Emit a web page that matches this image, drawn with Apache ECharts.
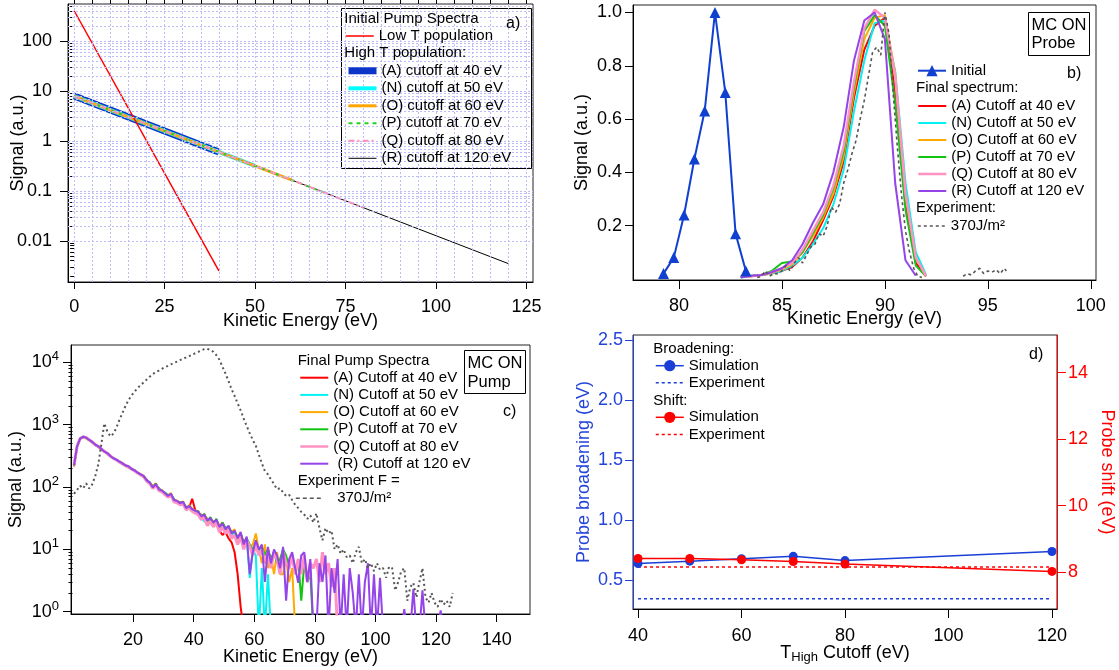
<!DOCTYPE html>
<html><head><meta charset="utf-8">
<script src="https://cdn.jsdelivr.net/npm/echarts@6/dist/echarts.min.js"></script>
<style>html,body{margin:0;padding:0;background:#fff}#c{width:1119px;height:670px}</style>
</head><body><div id="c"></div>
<script>
// ================= DATA =================
// ---- Panel a: initial pump spectra ----
const A_XTICKS = [0, 25, 50, 75, 100, 125];
const A_XMINOR = [0,5,10,15,20,25,30,35,40,45,50,55,60,65,70,75,80,85,90,95,100,105,110,115,120,125];
const A_YTICKS = [0.01, 0.1, 1, 10, 100];
const A_YLABELS = ['0.01', '0.1', '1', '10', '100'];
const A_YMINOR = [0.002,0.003,0.004,0.005,0.006,0.007,0.008,0.009,
  0.02,0.03,0.04,0.05,0.06,0.07,0.08,0.09,
  0.2,0.3,0.4,0.5,0.6,0.7,0.8,0.9,
  2,3,4,5,6,7,8,9, 20,30,40,50,60,70,80,90, 200,300,400,500];
const A_GRID_Y = [0.002,0.003,0.004,0.005,0.006,0.007,0.008,0.009,
  0.01,0.02,0.03,0.04,0.05,0.06,0.07,0.08,0.09,
  0.1,0.2,0.3,0.4,0.5,0.6,0.7,0.8,0.9,
  1,2,3,4,5,6,7,8,9, 10,20,30,40,50,60,70,80,90, 100,200,300,400,500];
const A_LOW_T   = [[0, 410], [40, 0.0025]];
const A_CUT_40  = [[0, 8], [40, 0.608]];
const A_CUT_50  = [[0, 8], [50, 0.319]];
const A_CUT_60  = [[0, 8], [60, 0.1675]];
const A_CUT_70  = [[0, 8], [70, 0.088]];
const A_CUT_80  = [[0, 8], [80, 0.0462]];
const A_CUT_120 = [[0, 8], [120, 0.0035]];

// ---- Panel b: probe spectra ----
const B_XTICKS = [80, 85, 90, 95, 100];
const B_YTICKS = [0.2, 0.4, 0.6, 0.8, 1.0];
const B_INIT_X = [79.25, 79.75, 80.25, 80.75, 81.25, 81.75, 82.25, 82.75, 83.25];
const B_INIT_Y = [0.02, 0.08, 0.24, 0.45, 0.63, 1.0, 0.70, 0.17, 0.03];
const B_X = [83.0,83.5,84.0,84.5,85.0,85.5,86.0,86.5,87.0,87.5,88.0,88.5,89.0,89.5,90.0,90.5,91.0,91.5,92.0];
const B_A = [0.008,0.01,0.015,0.02,0.03,0.045,0.08,0.14,0.22,0.31,0.44,0.68,0.86,0.95,0.98,0.70,0.28,0.06,0.01];
const B_N = [0.005,0.01,0.015,0.02,0.03,0.05,0.08,0.13,0.19,0.28,0.41,0.63,0.82,0.96,0.97,0.78,0.36,0.10,0.015];
const B_O = [0.008,0.01,0.015,0.022,0.035,0.055,0.10,0.16,0.23,0.32,0.46,0.70,0.90,0.98,0.99,0.77,0.32,0.08,0.012];
const B_P = [0.008,0.012,0.015,0.03,0.06,0.065,0.10,0.17,0.24,0.34,0.48,0.72,0.93,0.99,0.95,0.66,0.26,0.05,0.01];
const B_Q = [0.008,0.01,0.015,0.025,0.04,0.06,0.11,0.18,0.25,0.35,0.50,0.74,0.94,1.01,0.98,0.76,0.32,0.08,0.01];
const B_R = [0.005,0.012,0.015,0.025,0.04,0.07,0.13,0.21,0.28,0.40,0.57,0.82,0.97,1.0,0.90,0.36,0.07,0.012,null];
const B_EXP_X = [83.8,84.0,84.2,84.4,84.6,84.8,85.0,85.2,85.4,85.6,85.8,86.0,86.2,86.4,86.6,86.8,87.0,87.2,87.4,87.6,
  87.8,88.0,88.2,88.4,88.6,88.8,89.0,89.2,89.4,89.6,89.8,90.0,90.2,90.4,90.6,90.8,91.0,91.2,91.4,91.6,91.8,
  92.8, 93.8,94.0,94.2,94.4,94.6,94.8,95.0,95.2,95.4,95.6,95.8,95.9];
const B_EXP_Y = [0.005,0.01,0.03,0.01,0.02,0.02,0.03,0.05,0.03,0.06,0.08,0.06,0.09,0.12,0.13,0.17,0.16,0.20,0.27,0.25,
  0.28,0.36,0.41,0.47,0.52,0.60,0.67,0.76,0.85,0.87,0.84,1.0,0.92,0.70,0.50,0.32,0.18,0.10,0.04,0.01,0.005,
  null, 0.01,0.02,0.015,0.03,0.04,0.02,0.03,0.025,0.035,0.02,0.04,0.03];

// ---- Panel c: final pump spectra ----
const C_XTICKS = [20, 40, 60, 80, 100, 120, 140];
const C_YTICKS = [1, 10, 100, 1000, 10000];
const C_YEXP = ['0', '1', '2', '3', '4'];
const C_YMINOR = [2,3,4,5,6,7,8,9,20,30,40,50,60,70,80,90,200,300,400,500,600,700,800,900,
  2000,3000,4000,5000,6000,7000,8000,9000];
const E_C = [0.5,1.5,2.5,3.5,4.5,5.5,6.5,7.5,8.5,9.5,10.5,11.5,12.5,13.5,14.5,15.5,16.5,17.5,18.5,19.5,
  20.5,21.5,22.5,23.5,24.5,25.5,26.5,27.5,28.5,29.5,30.5,31.5,32.5,33.5,34.5,35.5,36.5,37.5,38.5,39.5,
  40.5,41.5,42.5,43.5,44.5,45.5,46.5,47.5,48.5,49.5,50.5,51.5,52.5,53.5,54.5,55.5,56.5,57.5,58.5,59.5,
  60.5,61.5,62.5,63.5,64.5,65.5,66.5,67.5,68.5,69.5,70.5,71.5,72.5,73.5,74.5,75.5,76.5,77.5,78.5,79.5,
  80.5,81.5,82.5,83.5,84.5,85.5,86.5,87.5,88.5,89.5,90.5,91.5,92.5,93.5,94.5,95.5,96.5,97.5,98.5,99.5,
  100.5,101.5,102.5,103.5,104.5,105.5,106.5,107.5,108.5,109.5,110.5,111.5,112.5,113.5,114.5,115.5,116.5,117.5,118.5,119.5,
  120.5,121.5,122.5,123.5,124.5,125.5];
// values below the axis floor (0.5) stand for empty (zero-count) bins
const C_A = [215,440,590,635,610,575,520,470,440,400, 380,340,310,292,270,250,232,225,205,198,
  180,168,155,145,132,116,104,108,96,85, 78,75,74,64,58,57,55,48,47,65,
  43,37,36,34,31,30,27,26,20,17, 19,15,13,9,4,1.2,0.5];
const C_N = [220,455,610,650,615,565,525,475,445,405, 372,345,318,288,272,258,238,220,212,192,
  183,172,158,148,130,120,100,110,94,86, 82,74,76,64,58,56,56,47,49,43,
  41,39,35,28,30,31,26,28,22,25, 20,22,17,19,14,17,13,15,3.5,10, 8,0.5,5,0.5,4,0.5];
const C_O = [220,445,595,630,600,560,522,478,448,408, 368,348,320,292,276,254,242,220,214,196,
  186,168,162,152,126,120,102,115,90,90, 79,73,80,60,61,54,59,45,51,45,
  42,41,33,37,30,31,28,29,24,27, 20,23,19,21,14,18,13,15,11,12,
  18,10,6,12,5,8,4,9,4,4, 7,3,5,0.5,0.5];
const C_P = [222,448,598,635,618,568,528,482,448,412, 368,352,312,290,272,256,238,224,212,196,
  186,171,158,150,129,116,99,113,93,86, 81,73,77,63,59,56,57,47,49,44,
  41,41,33,37,28,33,26,31,22,27, 22,23,19,19,16,18,13,15,12,10,
  13,9,11,8,10,7,9,6,7,10, 8,5,8,4,7,1.5,6,3,4,0.5];
const C_Q = [224,452,602,642,622,572,532,478,452,408, 372,348,313,288,273,253,238,220,213,193,
  183,168,157,146,124,114,95,108,88,84, 76,69,74,58,56,52,54,43,46,41,
  38,36,30,33,24,28,23,27,19,23, 18,21,15,17,12,16,10,14,11,8,
  12,8,10,6,9,5,9,7,4,9, 6,5,8,4,7,4,8,3,6,5, 7,3,9,4,6,2.5,5,0.5];
const C_R = [225,450,600,640,620,570,530,480,450,410, 370,350,315,290,275,255,240,222,215,195,
  185,170,160,150,128,118,98,112,92,88, 80,72,78,62,60,55,58,46,50,44,
  42,40,34,36,29,32,27,30,23,26, 21,24,18,20,15,19,12,16,4,9,
  14,10,12,3,11,6,10,8,5,11, 1.5,7,9,5,2.9,8,9,3,7,0.5,
  0.5,6,3,8,0.5,5,2,7,0.5,4, 0.5,5,2,0.5,4,0.5,3,6,0.5,4,
  0.5,3.5,0.5,0.5,0.5,0.5,0.5,0.5,0.5,1.1, 0.5,0.5,2.3,0.5,0.5,2.2,0.5,0.5,0.5,0.5, 0.5,1.05,0.5];
const C_EXP = [78,90,105,95,115,95,110,150,230,480, 1050,780,650,720,900,1200,1550,2000,2500,2950,
  3400,3900,4300,4800,5300,5900,6500,7000,7400,7900, 8400,8800,9300,9800,10300,10900,11500,12000,12600,13300,
  14000,14700,15500,16300,16500,15800,14800,13000,11000,8500, 6600,5000,3700,2900,2200,1700,1250,950,730,570,
  460,330,240,180,160,132,112,92,96,82, 72,75,62,52,46,40,36,31,35,27,
  38,22,14,22,18,20,10,12,8.5,10, 7.5,8,6,9,11,6,7,5,6,4.5,
  6,4.7,5,3.5,5.3,5,2.2,3,4.5,5, 1.5,2.5,2.9,1.7,3,5,1.7,1.4,2,1.4, 1.2,1.6,1.3,1.5,1.2,2];

// ---- Panel d: broadening and shift ----
const D_XTICKS = [40, 60, 80, 100, 120];
const D_YL_TICKS = [0.5, 1.0, 1.5, 2.0, 2.5];
const D_YR_TICKS = [8, 10, 12, 14];
const D_X = [40, 50, 60, 70, 80, 120];
const D_BROAD = [0.64, 0.66, 0.68, 0.70, 0.665, 0.74];
const D_SHIFT = [8.41, 8.41, 8.37, 8.32, 8.24, 8.02];
const D_EXP_X = [40, 120];
const D_BROAD_EXP = [0.348, 0.348];
const D_SHIFT_EXP = [8.15, 8.15];

// ================= CHART =================
const FONT = '"Liberation Sans", Arial, sans-serif';
const pairs = (xs, ys) => ys.map((y, i) => [xs[i], (y === null ? '-' : y)]);
const nearestLabel = (ticks, labels) => v => {
  let best = 0, bd = Infinity;
  ticks.forEach((t, i) => { const d = Math.abs(Math.log(v) - Math.log(t)); if (d < bd) { bd = d; best = i; } });
  return labels[best];
};
const lbl = (extra) => Object.assign({ fontSize: 18, color: '#000', fontFamily: FONT }, extra);
const nm = (extra) => Object.assign({ fontSize: 18, color: '#000', fontFamily: FONT }, extra);
const axLine = (c) => ({ show: true, onZero: false, lineStyle: { color: c || '#000', width: 1 } });

const xAxis = [
  { type: 'value', gridIndex: 0, min: -1.7, max: 126.8, axisLine: axLine(),
    axisTick: { show: true, length: 7, customValues: A_XTICKS, lineStyle: { color: '#000' } },
    axisLabel: lbl({ customValues: A_XTICKS, margin: 16 }), splitLine: { show: false },
    name: 'Kinetic Energy (eV)', nameLocation: 'middle', nameGap: 30, nameTextStyle: nm(), nameMoveOverlap: false },
  { type: 'value', gridIndex: 0, min: -1.7, max: 126.8, axisLine: { show: false },
    axisTick: { show: true, length: 4, customValues: A_XMINOR, lineStyle: { color: '#000' } },
    axisLabel: { show: false }, splitLine: { show: false } },
  { type: 'value', gridIndex: 1, min: 77.77, max: 100.25, axisLine: axLine(),
    axisTick: { show: true, length: 9, customValues: B_XTICKS, lineStyle: { color: '#000' } },
    axisLabel: lbl({ customValues: B_XTICKS, margin: 17 }), splitLine: { show: false },
    name: 'Kinetic Energy (eV)', nameLocation: 'middle', nameGap: 30, nameTextStyle: nm(), nameMoveOverlap: false },
  { type: 'value', gridIndex: 2, min: -0.5, max: 151, axisLine: axLine(),
    axisTick: { show: true, length: 8, customValues: C_XTICKS, lineStyle: { color: '#000' } },
    axisLabel: lbl({ customValues: C_XTICKS, margin: 17 }), splitLine: { show: false },
    name: 'Kinetic Energy (eV)', nameLocation: 'middle', nameGap: 34, nameTextStyle: nm(), nameMoveOverlap: false },
  { type: 'value', gridIndex: 3, min: 39.03, max: 120.97, axisLine: axLine(),
    axisTick: { show: true, length: 9, customValues: D_XTICKS, lineStyle: { color: '#000' } },
    axisLabel: lbl({ customValues: D_XTICKS, margin: 18 }), splitLine: { show: false },
    name: 'T{sub|High} Cutoff (eV)', nameLocation: 'middle', nameGap: 33, nameMoveOverlap: false,
    nameTextStyle: nm({ rich: { sub: { fontSize: 13, fontFamily: FONT, color: '#000', padding: [9, 0, 0, 0] } } }) }
];

const BLUE_AX = '#2444d8';
const yAxis = [
  { type: 'log', logBase: 10, gridIndex: 0, min: 0.0015, max: 560, axisLine: axLine(),
    axisTick: { show: true, length: 8, customValues: A_YTICKS, lineStyle: { color: '#000' } },
    axisLabel: lbl({ customValues: A_YTICKS, margin: 16, formatter: nearestLabel(A_YTICKS, A_YLABELS) }),
    splitLine: { show: false }, minorTick: { show: false },
    name: 'Signal (a.u.)', nameLocation: 'middle', nameGap: 41, nameTextStyle: nm(), nameMoveOverlap: false },
  { type: 'log', logBase: 10, gridIndex: 0, min: 0.0015, max: 560, position: 'left', axisLine: { show: false },
    axisTick: { show: true, length: 4, customValues: A_YMINOR, lineStyle: { color: '#000' } },
    axisLabel: { show: false }, splitLine: { show: false } },
  { type: 'value', gridIndex: 1, min: -0.004, max: 1.028, axisLine: axLine(),
    axisTick: { show: true, length: 8, customValues: B_YTICKS, lineStyle: { color: '#000' } },
    axisLabel: lbl({ customValues: B_YTICKS, margin: 11, formatter: v => v.toFixed(1) }), splitLine: { show: false },
    name: 'Signal (a.u.)', nameLocation: 'middle', nameGap: 42, nameTextStyle: nm(), nameMoveOverlap: false },
  { type: 'log', logBase: 10, gridIndex: 2, min: 0.92, max: 19000, axisLine: axLine(),
    axisTick: { show: true, length: 8, customValues: C_YTICKS, lineStyle: { color: '#000' } },
    axisLabel: lbl({ customValues: C_YTICKS, margin: 12,
      formatter: v => '10{sup|' + nearestLabel(C_YTICKS, C_YEXP)(v) + '}',
      rich: { sup: { fontSize: 13, fontFamily: FONT, color: '#000', padding: [0, 0, 11, 0] } } }),
    splitLine: { show: false },
    name: 'Signal (a.u.)', nameLocation: 'middle', nameGap: 46, nameTextStyle: nm(), nameMoveOverlap: false },
  { type: 'log', logBase: 10, gridIndex: 2, min: 0.92, max: 19000, position: 'left', axisLine: { show: false },
    axisTick: { show: true, length: 4, customValues: C_YMINOR, lineStyle: { color: '#000' } },
    axisLabel: { show: false }, splitLine: { show: false } },
  { type: 'value', gridIndex: 3, min: 0.262, max: 2.542, position: 'left', axisLine: axLine(BLUE_AX),
    axisTick: { show: true, length: 8, customValues: D_YL_TICKS, lineStyle: { color: BLUE_AX } },
    axisLabel: lbl({ customValues: D_YL_TICKS, margin: 10, color: BLUE_AX, formatter: v => v.toFixed(1) }),
    splitLine: { show: false },
    name: 'Probe broadening (eV)', nameLocation: 'middle', nameGap: 40, nameTextStyle: nm({ color: BLUE_AX }), nameMoveOverlap: false },
  { type: 'value', gridIndex: 3, min: 6.89, max: 15.13, position: 'right', axisLine: axLine('#ff0000'),
    axisTick: { show: true, length: 9, customValues: D_YR_TICKS, lineStyle: { color: '#ff0000' } },
    axisLabel: lbl({ customValues: D_YR_TICKS, margin: 11, color: '#ff0000' }), splitLine: { show: false },
    name: 'Probe shift (eV)', nameLocation: 'middle', nameGap: 41, nameRotate: -90,
    nameTextStyle: nm({ color: '#ff0000' }), nameMoveOverlap: false }
];

const grid = [
  { left: 68, top: 4, width: 465, height: 278 },
  { left: 633, top: 5, width: 463, height: 275 },
  { left: 71, top: 345, width: 459, height: 269 },
  { left: 633, top: 335, width: 424, height: 274 }
].map(g => Object.assign(g, { show: true, borderColor: '#222', borderWidth: 1, backgroundColor: 'transparent', outerBoundsMode: 'none', containLabel: false }));

function ln(name, xi, yi, data, color, width, extra) {
  return Object.assign({
    type: 'line', name, xAxisIndex: xi, yAxisIndex: yi, data, symbol: 'none', showSymbol: false,
    animation: false, clip: true,
    lineStyle: { color, width, type: 'solid' }, itemStyle: { color }, emphasis: { disabled: true }
  }, extra || {});
}
const dash = (name, xi, yi, data, color, width, type, extra) => {
  const s = ln(name, xi, yi, data, color, width, extra); s.lineStyle.type = type; return s;
};

const A_COL = { blue: '#0b34c8', cyan: '#00ffff', orange: '#ffa500', green: '#1fd41f', pink: '#ff8fbf' };
const P_COL = { red: '#ff0000', cyan: '#00f2f2', orange: '#ffaa00', green: '#12c412', pink: '#ff92c2', purple: '#9444e8' };
const GRAY = '#555555';

const series = [
  // panel a grid lines
  { type: 'line', name: 'grid', xAxisIndex: 0, yAxisIndex: 0, data: [], silent: true, z: 1,
    markLine: { silent: true, symbol: ['none', 'none'], label: { show: false }, animation: false,
      lineStyle: { color: '#bcbcf6', width: 1, type: [2, 2] }, emphasis: { disabled: true },
      data: A_XMINOR.map(v => ({ xAxis: v })).concat(A_GRID_Y.map(v => ({ yAxis: v }))) } },
  ln('(R) cutoff at 120 eV', 0, 0, A_CUT_120, '#000', 1),
  ln('(A) cutoff at 40 eV', 0, 0, A_CUT_40, A_COL.blue, 7),
  ln('(N) cutoff at 50 eV', 0, 0, A_CUT_50, A_COL.cyan, 4),
  ln('(O) cutoff at 60 eV', 0, 0, A_CUT_60, A_COL.orange, 3),
  dash('(P) cutoff at 70 eV', 0, 0, A_CUT_70, A_COL.green, 2, [4, 4]),
  dash('(Q) cutoff at 80 eV', 0, 0, A_CUT_80, A_COL.pink, 2, [6, 3, 2, 3]),
  ln('Low T population', 0, 0, A_LOW_T, '#ff0000', 1.5, { z: 3 }),

  // panel b
  ln('(A) Cutoff at 40 eV', 2, 2, pairs(B_X, B_A), P_COL.red, 2),
  ln('(N) Cutoff at 50 eV', 2, 2, pairs(B_X, B_N), P_COL.cyan, 2),
  ln('(O) Cutoff at 60 eV', 2, 2, pairs(B_X, B_O), P_COL.orange, 2),
  ln('(P) Cutoff at 70 eV', 2, 2, pairs(B_X, B_P), P_COL.green, 2),
  ln('(Q) Cutoff at 80 eV', 2, 2, pairs(B_X, B_Q), P_COL.pink, 2.5),
  ln('(R) Cutoff at 120 eV', 2, 2, pairs(B_X, B_R), P_COL.purple, 2),
  dash('370J/m²', 2, 2, pairs(B_EXP_X, B_EXP_Y), GRAY, 1.6, [3, 3]),
  ln('Initial', 2, 2, pairs(B_INIT_X, B_INIT_Y), '#1040d0', 2, { symbol: 'triangle', symbolSize: 11, showSymbol: true }),

  // panel c
  ln('(A) Cutoff at 40 eV', 3, 3, pairs(E_C, C_A), P_COL.red, 2),
  ln('(N) Cutoff at 50 eV', 3, 3, pairs(E_C, C_N), P_COL.cyan, 2),
  ln('(O) Cutoff at 60 eV', 3, 3, pairs(E_C, C_O), P_COL.orange, 2),
  ln('(P) Cutoff at 70 eV', 3, 3, pairs(E_C, C_P), P_COL.green, 2),
  ln('(Q) Cutoff at 80 eV', 3, 3, pairs(E_C, C_Q), P_COL.pink, 3),
  ln(' (R) Cutoff at 120 eV', 3, 3, pairs(E_C, C_R), P_COL.purple, 2),
  dash('  370J/m²', 3, 3, pairs(E_C, C_EXP), GRAY, 2, [2, 3]),

  // panel d
  dash('Broadening: Experiment', 4, 5, pairs(D_EXP_X, D_BROAD_EXP), '#1a3fd6', 1.5, [3, 3]),
  ln('Broadening: Simulation', 4, 5, pairs(D_X, D_BROAD), '#1a3fd6', 1.5, { symbol: 'circle', symbolSize: 9, showSymbol: true }),
  dash('Shift: Experiment', 4, 6, pairs(D_EXP_X, D_SHIFT_EXP), '#ff0000', 1.5, [3, 3]),
  ln('Shift: Simulation', 4, 6, pairs(D_X, D_SHIFT), '#ff0000', 1.5, { symbol: 'circle', symbolSize: 9, showSymbol: true })
];

// legend icons: plain lines (symbol hidden) unless an item asks for its marker
const withMarker = name => ({ name, itemStyle: { opacity: 1 } });
function leg(left, top, names, extra) {
  return Object.assign({
    show: true, orient: 'vertical', align: 'left', left, top, padding: 0,
    itemWidth: 28, itemHeight: 14, itemGap: 2.5, selectedMode: false, z: 6,
    textStyle: { fontSize: 15, color: '#000', fontFamily: FONT },
    lineStyle: { width: 'inherit', type: 'inherit' },
    itemStyle: { opacity: 0 },
    data: names
  }, extra || {});
}
const dFmt = { formatter: n => n.split(': ')[1] };
const legend = [
  leg(345, 28.5, ['Low T population']),
  leg(345, 63.3, ['(A) cutoff at 40 eV', '(N) cutoff at 50 eV', '(O) cutoff at 60 eV', '(P) cutoff at 70 eV', '(Q) cutoff at 80 eV', '(R) cutoff at 120 eV']),
  leg(917, 63.2, [withMarker('Initial')], { itemHeight: 14 }),
  leg(917, 98.5, ['(A) Cutoff at 40 eV', '(N) Cutoff at 50 eV', '(O) Cutoff at 60 eV', '(P) Cutoff at 70 eV', '(Q) Cutoff at 80 eV', '(R) Cutoff at 120 eV'], { itemGap: 2 }),
  leg(917, 218.5, ['370J/m²']),
  leg(299, 370.2, ['(A) Cutoff at 40 eV', '(N) Cutoff at 50 eV', '(O) Cutoff at 60 eV', '(P) Cutoff at 70 eV', '(Q) Cutoff at 80 eV', ' (R) Cutoff at 120 eV'], { itemGap: 2.2 }),
  leg(295, 490.8, [{ name: '  370J/m²', lineStyle: { type: [4, 3], width: 1.6 } }]),
  leg(655, 358.2, [withMarker('Broadening: Simulation'), 'Broadening: Experiment'], Object.assign({ itemGap: 2 }, dFmt)),
  leg(655, 409.8, [withMarker('Shift: Simulation'), 'Shift: Experiment'], Object.assign({ itemGap: 2.3 }, dFmt))
];

const txt = (text, x, y, size, color) => ({ type: 'text', x, y, z: 7, silent: true,
  style: { text, fill: color || '#000', font: (size || 15) + 'px ' + FONT, verticalAlign: 'middle', align: 'left' } });
const box = (x, y, w, h) => ({ type: 'rect', z: 3, silent: true, shape: { x, y, width: w, height: h },
  style: { fill: '#fff', stroke: '#000', lineWidth: 1 } });

const graphic = { elements: [
  box(341.5, 8.5, 190, 160),
  txt('Initial Pump Spectra', 344.3, 18.7),
  txt('High T population:', 344.3, 53.3),
  txt('a)', 506, 24, 16),
  box(1028.5, 12.5, 61, 43),
  txt('MC ON', 1031.5, 25, 16.5), txt('Probe', 1031.5, 43.3, 16.5),
  txt('b)', 1067, 74, 16),
  txt('Final spectrum:', 916, 88.3),
  txt('Experiment:', 916, 208.3),
  box(464.5, 350.5, 61, 43),
  txt('MC ON', 467.5, 363.3, 16.5), txt('Pump', 467.5, 382.3, 16.5),
  txt('c)', 503, 412, 16),
  txt('Final Pump Spectra', 297.7, 360.7),
  txt('Experiment F =', 297.7, 480.7),
  txt('Broadening:', 653.3, 349),
  txt('Shift:', 653.3, 400.7),
  txt('d)', 1029, 355, 16)
] };

const chart = echarts.init(document.getElementById('c'), null, { renderer: 'canvas' });
chart.setOption({
  animation: false, backgroundColor: '#fff',
  textStyle: { fontFamily: FONT },
  grid, xAxis, yAxis, series, legend, graphic
});
</script></body></html>
